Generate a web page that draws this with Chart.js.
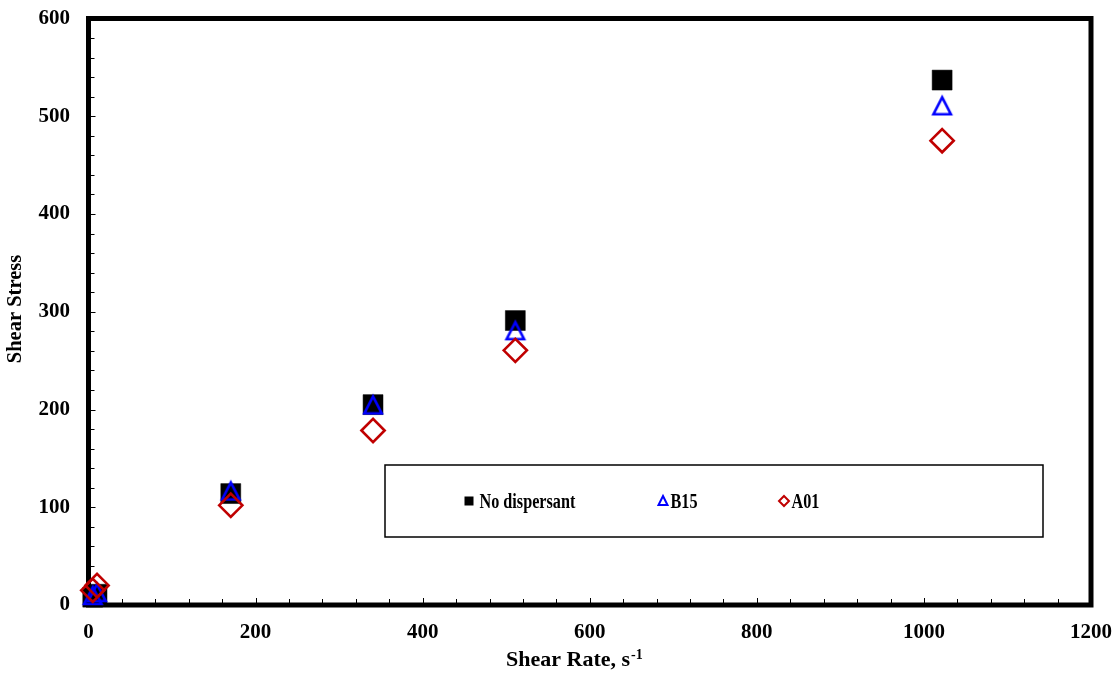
<!DOCTYPE html>
<html>
<head>
<meta charset="utf-8">
<script src="https://cdn.jsdelivr.net/npm/chart.js@4/dist/chart.umd.min.js"></script>
<style>
  html, body { margin: 0; padding: 0; background: #ffffff; }
  #wrap { width: 1120px; height: 673px; }
</style>
</head>
<body>
<div id="wrap"><canvas id="c" width="1120" height="673"></canvas></div>
<script>
// ---- data ----
const shearRate = [5.1, 10.2, 170.3, 340.6, 510.9, 1021.8];
const noDispersant = [8, 11, 114, 205, 291, 537];
const b15 = [10, 13, 117, 205, 281, 511];
const a01 = [15, 20, 102, 178.5, 260.5, 475];
const seriesNames = ['No dispersant', 'B15', 'A01'];
const xTickStep = 200, xMinorStep = 40, xMin = 0, xMax = 1200;
const yTickStep = 100, yMinorStep = 20, yMin = 0, yMax = 600;
const xTitle = 'Shear Rate, s';
const xTitleSup = '-1';
const yTitle = 'Shear Stress';

const FONT = "'Liberation Serif', 'Times New Roman', serif";
const BLUE = '#0000FF';
const RED = '#C00000';

function toPoints(xs, ys) { return xs.map((x, i) => ({ x: x, y: ys[i] })); }

// triangle marker centred on its bounding box (like the original)
function makeTriangle(size, lw, color) {
  const c = document.createElement('canvas');
  const pad = 3;
  c.width = size + pad * 2; c.height = size + pad * 2;
  const ctx = c.getContext('2d');
  ctx.strokeStyle = color; ctx.lineWidth = lw; ctx.lineJoin = 'miter';
  const h = lw / 2;
  ctx.beginPath();
  ctx.moveTo(pad + size / 2, pad + h + 0.5);
  ctx.lineTo(pad + size - h, pad + size - h);
  ctx.lineTo(pad + h, pad + size - h);
  ctx.closePath();
  ctx.stroke();
  return c;
}
const triImg = makeTriangle(20, 2.6, BLUE);

function noPad(s) {
  s.paddingLeft = 0; s.paddingRight = 0; s.paddingTop = 0; s.paddingBottom = 0;
}

const framePlugin = {
  id: 'framePlugin',
  beforeDatasetsDraw(chart) {
    const { ctx, chartArea: a, scales } = chart;
    const xs = scales.x, ys = scales.y;
    ctx.save();
    ctx.strokeStyle = '#000'; ctx.lineWidth = 1;
    for (let v = yMin + yMinorStep; v < yMax; v += yMinorStep) {
      const p = Math.round(ys.getPixelForValue(v)) + 0.5;
      const len = (v % yTickStep === 0) ? 7 : 6;
      ctx.beginPath(); ctx.moveTo(a.left, p); ctx.lineTo(a.left + len, p); ctx.stroke();
    }
    for (let v = xMin + xMinorStep; v < xMax; v += xMinorStep) {
      const p = Math.round(xs.getPixelForValue(v)) + 0.5;
      const len = (v % xTickStep === 0) ? 7 : 6;
      ctx.beginPath(); ctx.moveTo(p, a.bottom); ctx.lineTo(p, a.bottom - len); ctx.stroke();
    }
    ctx.lineWidth = 5; ctx.lineJoin = 'miter';
    ctx.strokeRect(a.left, a.top, a.right - a.left, a.bottom - a.top);
    ctx.restore();
  },
  afterDraw(chart) {
    const { ctx } = chart;
    ctx.save();
    ctx.fillStyle = '#000';
    ctx.font = 'bold 22px ' + FONT;
    ctx.textAlign = 'left'; ctx.textBaseline = 'alphabetic';
    ctx.fillText(xTitle, 506, 666);
    const w = ctx.measureText(xTitle).width;
    ctx.font = 'bold 14px ' + FONT;
    ctx.fillText(xTitleSup, 506 + w + 1, 659);
    ctx.translate(16, 309);
    ctx.rotate(-Math.PI / 2);
    ctx.font = 'bold 20.5px ' + FONT;
    ctx.textAlign = 'center'; ctx.textBaseline = 'middle';
    ctx.fillText(yTitle, 0, 0);
    ctx.restore();

    // legend box
    ctx.save();
    ctx.strokeStyle = '#000'; ctx.lineWidth = 1.5;
    ctx.strokeRect(385, 465, 658, 72);
    const cy = 501;
    ctx.fillStyle = '#000';
    ctx.fillRect(464.5, cy - 4.5, 9, 9);
    ctx.strokeStyle = BLUE; ctx.lineWidth = 2;
    ctx.beginPath();
    ctx.moveTo(663, cy - 5); ctx.lineTo(667.5, cy + 4); ctx.lineTo(658.5, cy + 4); ctx.closePath(); ctx.stroke();
    ctx.strokeStyle = RED; ctx.lineWidth = 2;
    ctx.beginPath();
    ctx.moveTo(784, cy - 5); ctx.lineTo(789, cy); ctx.lineTo(784, cy + 5); ctx.lineTo(779, cy); ctx.closePath(); ctx.stroke();
    ctx.fillStyle = '#000';
    ctx.font = 'bold 20px ' + FONT;
    ctx.textBaseline = 'alphabetic'; ctx.textAlign = 'left';
    const items = [[seriesNames[0], 479.5], [seriesNames[1], 670.5], [seriesNames[2], 791.5]];
    items.forEach(([t, x]) => {
      ctx.save();
      ctx.translate(x, 508);
      ctx.scale(0.81, 1);
      ctx.fillText(t, 0, 0);
      ctx.restore();
    });
    ctx.restore();
  }
};

const chart = new Chart(document.getElementById('c'), {
  type: 'scatter',
  data: {
    datasets: [
      {
        label: seriesNames[0],
        data: toPoints(shearRate, noDispersant),
        order: 2,
        pointStyle: 'rect',
        pointRadius: 14.1,
        pointHoverRadius: 14.1,
        backgroundColor: '#000',
        borderColor: '#000',
        borderWidth: 0.5,
        clip: false
      },
      {
        label: seriesNames[1],
        data: toPoints(shearRate, b15),
        order: 1,
        pointStyle: triImg,
        pointRadius: 12,
        backgroundColor: 'rgba(0,0,0,0)',
        borderColor: BLUE,
        clip: false
      },
      {
        label: seriesNames[2],
        data: toPoints(shearRate, a01),
        order: 0,
        pointStyle: 'rectRot',
        pointRadius: 11.6,
        pointHoverRadius: 11.6,
        backgroundColor: 'rgba(0,0,0,0)',
        borderColor: RED,
        borderWidth: 2.6,
        clip: false
      }
    ]
  },
  options: {
    responsive: false,
    animation: false,
    events: [],
    layout: { padding: { left: 0, right: 29, top: 18.5, bottom: 0 } },
    plugins: { legend: { display: false }, tooltip: { enabled: false } },
    scales: {
      x: {
        type: 'linear', min: xMin, max: xMax,
        afterFit(s) { s.height = 68; noPad(s); },
        grid: { display: false, drawTicks: false },
        border: { display: false },
        ticks: { stepSize: xTickStep, color: '#000', padding: 14.5, maxRotation: 0,
                 callback: (v) => String(v),
                 font: { family: FONT, size: 21, weight: 'bold' } }
      },
      y: {
        type: 'linear', min: yMin, max: yMax,
        afterFit(s) { s.width = 88.5; noPad(s); },
        grid: { display: false, drawTicks: false },
        border: { display: false },
        ticks: { stepSize: yTickStep, color: '#000', padding: 18.5,
                 callback: (v) => String(v),
                 font: { family: FONT, size: 21, weight: 'bold' } }
      }
    }
  },
  plugins: [framePlugin]
});
</script>
</body>
</html>
